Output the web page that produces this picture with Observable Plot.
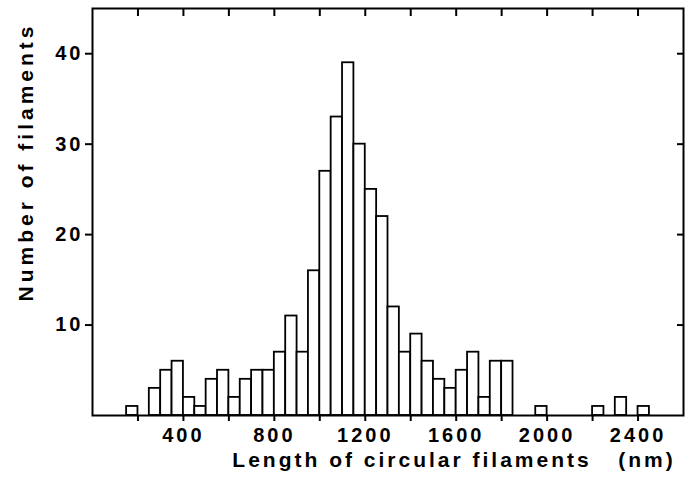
<!DOCTYPE html>
<html>
<head>
<meta charset="utf-8">
<script src="https://cdn.jsdelivr.net/npm/d3@7"></script>
<script src="https://cdn.jsdelivr.net/npm/@observablehq/plot@0.6"></script>
<style>
  body { margin: 0; background: #fff; }
  #chart svg { font-family: "Liberation Sans", Arial, sans-serif; font-weight: bold; }
  g[aria-label="x-axis tick label"] text, g[aria-label="y-axis tick label"] text { letter-spacing: 3px; }
</style>
</head>
<body>
<div id="chart"></div>
<script>
// Bin start (nm) of each non-empty 50 nm bin, and its count
const binStart = [150, 250, 300, 350, 400, 450, 500, 550, 600, 650, 700, 750, 800, 850, 900, 950,
  1000, 1050, 1100, 1150, 1200, 1250, 1300, 1350, 1400, 1450, 1500, 1550, 1600, 1650, 1700, 1750,
  1800, 1950, 2200, 2300, 2400];
const counts = [1, 3, 5, 6, 2, 1, 4, 5, 2, 4, 5, 5, 7, 11, 7, 16,
  27, 33, 39, 30, 25, 22, 12, 7, 9, 6, 4, 3, 5, 7, 2, 6,
  6, 1, 1, 2, 1];
const binWidth = 50;
const xTicks = [200, 400, 600, 800, 1000, 1200, 1400, 1600, 1800, 2000, 2200, 2400];
const xLabels = [400, 800, 1200, 1600, 2000, 2400];
const yTicks = [10, 20, 30, 40];
const xTitle = "Length of circular filaments\u00a0\u00a0\u00a0(nm)";
const yTitle = "Number of filaments";

const data = binStart.map((s, i) => ({x1: s, x2: s + binWidth, y: counts[i]}));

const plot = Plot.plot({
  width: 694,
  height: 482,
  marginLeft: 92,
  marginRight: 11,
  marginTop: 8,
  marginBottom: 67,
  style: {background: "#fff", color: "#000", fontFamily: "'Liberation Sans', Arial, sans-serif", fontWeight: "bold"},
  x: {domain: [0, 2600]},
  y: {domain: [0, 45]},
  marks: [
    Plot.rectY(data, {x1: "x1", x2: "x2", y: "y", fill: "white", stroke: "black", strokeWidth: 1.8}),
    Plot.frame({stroke: "black", strokeWidth: 2}),
    Plot.axisX(xTicks, {anchor: "bottom", tickSize: 6, tickPadding: 6, strokeWidth: 2, fontSize: 20,
      tickFormat: d => xLabels.includes(d) ? String(d) : "", label: null}),
    Plot.axisX(xTicks, {anchor: "top", tickSize: 7, dy: 7, strokeWidth: 2, tickFormat: () => "", label: null}),
    Plot.axisY(yTicks, {anchor: "left", tickSize: 7, tickPadding: 2, strokeWidth: 2, fontSize: 20, label: null}),
    Plot.axisY(yTicks, {anchor: "right", tickSize: 7, dx: -7, strokeWidth: 2, tickFormat: () => "", label: null}),
    Plot.text([yTitle], {text: d => d, frameAnchor: "left", textAnchor: "middle", rotate: -90, dx: -66, dy: -50, fontSize: 21}),
    Plot.text([xTitle], {text: d => d, frameAnchor: "bottom", textAnchor: "middle", dx: 66, dy: 51, fontSize: 21})
  ]
});
d3.select(plot).selectAll("text")
  .filter(function() { return this.textContent === yTitle; })
  .style("letter-spacing", "4px");
d3.select(plot).selectAll("text")
  .filter(function() { return this.textContent === xTitle; })
  .style("letter-spacing", "3px");
document.getElementById("chart").appendChild(plot);
</script>
</body>
</html>
